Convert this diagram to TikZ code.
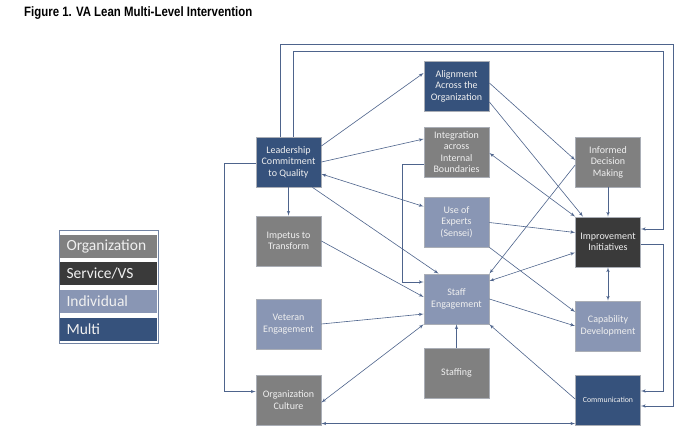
\documentclass[tikz,border=0pt]{standalone}
\usepackage{fontspec}
\usepackage{graphicx}
\setmainfont{Carlito}
\newfontfamily\titlefont{Liberation Sans}
\usetikzlibrary{shapes,arrows,positioning}
\definecolor{multiblue}{RGB}{54,82,124}
\definecolor{orggray}{RGB}{128,128,128}
\definecolor{servgray}{RGB}{58,58,58}
\definecolor{indivblue}{RGB}{137,150,180}
\definecolor{linkblue}{RGB}{78,100,140}
\definecolor{edgegray}{RGB}{170,174,182}
\tikzstyle{block} = [rectangle, draw=edgegray, line width=0.8pt, 
    minimum width=65pt, minimum height=50pt, align=center,
    inner sep=0pt, text=white!94!black, font=\fontsize{10}{11.5}\selectfont]
\tikzstyle{orgblock} = [block, fill=orggray]
\tikzstyle{servblock} = [block, fill=servgray]
\tikzstyle{indivblock} = [block, fill=indivblue]
\tikzstyle{multiblock} = [block, fill=multiblue]
\tikzstyle{line} = [draw=linkblue, line width=0.6pt, -latex']
\tikzstyle{twoway} = [draw=linkblue, line width=0.6pt, latex'-latex']
\tikzstyle{legrow} = [rectangle, minimum width=97pt, minimum height=23pt,
    text width=84pt, align=left, inner sep=0pt, text=white!94!black,
    font=\fontsize{15.5}{17}\selectfont, node distance=27pt]
\begin{document}
\begin{tikzpicture}[x=1pt, y=-1pt, node distance=80pt]
	\fill[white] (0,0) rectangle (700,436);
	\useasboundingbox (0,0) rectangle (700,436);
	% Title
	\node [anchor=base west, inner sep=0pt] (title) at (24,17)
		{\scalebox{0.84}[1]{\titlefont\fontsize{13.6}{15}\selectfont\bfseries Figure 1. VA Lean Multi-Level Intervention}};
	% Legend
	\draw [draw=linkblue!80, line width=0.6pt] (59,230) rectangle (158,343);
	\node [legrow, fill=orggray] (legorg) at (108.5,246.5) {Organization};
	\node [legrow, fill=servgray, below of=legorg] (legserv) {Service/VS};
	\node [legrow, fill=indivblue, below of=legserv, node distance=28pt] (legindiv) {Individual};
	\node [legrow, fill=multiblue, below of=legindiv, node distance=28pt] (legmulti) {Multi};
	% Place nodes
	\node [multiblock] (lead) at (288.5,162) {Leadership\\ Commitment\\ to Quality};
	\node [orgblock, below of=lead, node distance=79pt] (impetus) {Impetus to\\ Transform};
	\node [indivblock, below of=impetus, node distance=83pt] (veteran) {Veteran\\ Engagement};
	\node [orgblock, below of=veteran, node distance=76pt] (culture) {Organization\\ Culture};
	\node [multiblock] (align) at (456.5,86) {Alignment\\ Across the\\ Organization};
	\node [orgblock, below of=align, node distance=66pt] (integ) {Integration\\ across\\ Internal\\ Boundaries};
	\node [indivblock, below of=integ, node distance=70pt] (experts) {Use of\\ Experts\\ (Sensei)};
	\node [indivblock, below of=experts, node distance=77pt] (staff) {Staff\\ Engagement};
	\node [orgblock, below of=staff, node distance=74pt] (staffing) {Staffing};
	\node [orgblock] (informed) at (608,162) {Informed\\ Decision\\ Making};
	\node [servblock, below of=informed, node distance=80pt] (improve) {Improvement\\ Initiatives};
	\node [indivblock, below of=improve, node distance=84pt] (capab) {Capability\\ Development};
	\node [multiblock, below of=capab, node distance=74pt, font=\fontsize{7.8}{9}\selectfont] (comm) {Communication};
	% Corners of the long loops
	\coordinate (outertop) at (673,44);
	\coordinate (innertop) at (663,51);
	% Draw edges
	\path [line] ([xshift=-8.5pt]lead.north) |- (outertop) |- ([yshift=-6pt]comm.east);
	\path [line] ([xshift=4.5pt]lead.north) |- (innertop) |- ([yshift=13pt]improve.east);
	\path [line] ([yshift=-2.5pt]improve.east) -- ++(22pt,0) |- ([yshift=9pt]comm.east);
	\path [line] ([yshift=-1pt]lead.west) -- ++(-31pt,0) |- ([yshift=8.5pt]culture.west);
	\path [line] ([yshift=16pt]lead.east) -- ([yshift=13pt]align.west);
	\path [line] (lead.east) -- ([yshift=13pt]integ.west);
	\path [twoway] ([yshift=-12pt]lead.east) -- ([yshift=15.5pt]experts.west);
	\path [line] (lead) -- (impetus);
	\path [line] ([xshift=24pt]lead.south) -- ([xshift=-18pt]staff.north);
	\path [line] (impetus.east) -- ([yshift=2pt]staff.west);
	\path [line] ([yshift=-12pt]integ.west) -- ++(-21pt,0) |- ([yshift=17pt]staff.west);
	\path [line] (veteran.east) -- ([yshift=-15pt]staff.west);
	\path [line] (staffing) -- (staff);
	\path [twoway] (staff.south west) -- ([yshift=-2.5pt]culture.east);
	\path [line] ([yshift=1pt]comm.west) -- (staff.south east);
	\path [twoway] ([yshift=-23.5pt]culture.east) -- ([yshift=-23.5pt]comm.west);
	\path [twoway] ([yshift=18pt]staff.east) -- ([yshift=-10.5pt]improve.west);
	\path [line] (staff.east) -- (capab.west);
	\path [line] (experts.south east) -- ([yshift=14pt]capab.west);
	\path [line] ([yshift=-0.5pt]experts.east) -- ([yshift=9.5pt]improve.west);
	\path [line] ([yshift=-3pt]informed.west) -- (staff.north east);
	\path [twoway] ([yshift=-1pt]integ.east) -- (improve.north west);
	\path [line] ([yshift=3pt]align.east) -- ([yshift=2pt]informed.west);
	\path [line] ([yshift=-16pt]align.east) -- ([xshift=-25pt]improve.north);
	\path [line] (informed) -- (improve);
	\path [twoway] (improve) -- (capab);
\end{tikzpicture}
\end{document}
